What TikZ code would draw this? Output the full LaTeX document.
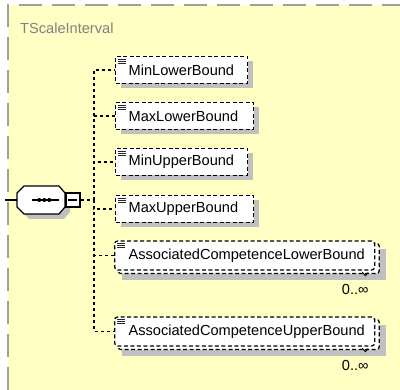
\documentclass[tikz,border=0pt]{standalone}
\usepackage{fontspec}
\setmainfont{Liberation Sans}
\usetikzlibrary{shadows,calc,backgrounds}
\definecolor{bgyellow}{RGB}{255,255,196}
\definecolor{bordergray}{RGB}{160,160,160}
\definecolor{shadowgray}{RGB}{192,192,192}
\definecolor{titlegray}{RGB}{128,128,128}
\tikzset{
  boxfont/.style={font=\fontsize{14.6}{16}\selectfont},
  elem/.style={boxfont, draw=black, line width=1.25pt, dash pattern=on 4pt off 2.5pt,
    fill=white, anchor=west, minimum height=27pt, inner xsep=2pt, inner ysep=0pt,
    execute at begin node={\hspace*{11pt}},
    general shadow={fill=shadowgray, shadow xshift=5pt, shadow yshift=-5pt}},
  assoc/.style={boxfont, draw=black, line width=1.25pt, dash pattern=on 4pt off 2.5pt,
    fill=white, anchor=west, minimum height=29pt, inner xsep=2pt, inner ysep=0pt,
    rounded corners=3pt, execute at begin node={\hspace*{12pt}}},
  backbox/.style={draw=black, line width=1.25pt, dash pattern=on 4pt off 2.5pt,
    fill=white, rounded corners=3pt},
  conn/.style={draw=black, line width=1.25pt, dash pattern=on 3pt off 3pt},
  icon/.style={draw=black!85, line width=0.8pt},
  mult/.style={boxfont, inner sep=0pt},
  solidline/.style={draw=black, line width=1.2pt},
}
\begin{document}
\begin{tikzpicture}[x=1pt,y=-1pt]
\useasboundingbox (0,0) rectangle (400,390);
% title
\node[anchor=west, text=titlegray, boxfont, inner sep=0pt] (title) at (20,28) {TScaleInterval};
% sequence compositor
\node[minimum width=48pt, minimum height=28pt, inner sep=0pt] (seq) at (41,200) {};
\fill[shadowgray] ($(seq.center)+(-12,-9)$) -- ($(seq.center)+(23,-9)$) -- ($(seq.center)+(29,-2)$)
  -- ($(seq.center)+(29,12)$) -- ($(seq.center)+(23,19)$) -- ($(seq.center)+(-12,19)$)
  -- ($(seq.center)+(-19,12)$) -- ($(seq.center)+(-19,-2)$) -- cycle;
\filldraw[solidline, fill=white] ($(seq.center)+(-17,-14)$) -- ($(seq.center)+(18,-14)$) -- ($(seq.center)+(24,-7)$)
  -- ($(seq.center)+(24,7)$) -- ($(seq.center)+(18,14)$) -- ($(seq.center)+(-17,14)$)
  -- ($(seq.center)+(-24,7)$) -- ($(seq.center)+(-24,-7)$) -- cycle;
\draw[solidline] ($(seq.center)+(-9,0)$) -- ($(seq.center)+(18,0)$);
\foreach \dx in {-1.7,3.3,8.3}
  \fill ($(seq.center)+(\dx,0)$) circle[radius=2pt];
\node[draw=black, line width=1.2pt, fill=white, minimum width=14pt, minimum height=14pt,
  inner sep=0pt] (seqend) at (73,200) {};
\draw[solidline] ($(seqend.center)+(-5,0)$) -- ($(seqend.center)+(4,0)$);
\coordinate (in) at (5,200);
\draw[solidline] (in) -- (seq.west);
% elements
\node[elem, text width=128pt] (b1) at (115,70) {MinLowerBound};
\node[elem, text width=134pt] (b2) at (115,116) {MaxLowerBound};
\node[elem, text width=128pt] (b3) at (115,162) {MinUpperBound};
\node[elem, text width=134pt] (b4) at (115,209) {MaxUpperBound};
\node[assoc, text width=256pt] (a1) at (114,255.5) {AssociatedCompetenceLowerBound};
\node[assoc, text width=256pt] (a2) at (114,331.5) {AssociatedCompetenceUpperBound};
% icons
\foreach \n in {b1,b2,b3,b4,a1,a2}{
  \foreach \dy in {3.5,5.5,7.5}
    \draw[icon] ($(\n.north west)+(3,\dy)$) -- ($(\n.north west)+(11,\dy)$);
}
% multiplicity
\foreach \n in {a1,a2}{
  \draw[line width=0.9pt] ($(\n.south east)+(-13,1.5)$) -- ($(\n.south east)+(-10,5)$) -- ($(\n.south east)+(-7,2)$);
  \node[mult] (m\n) at ($(\n.south east)+(-20,19)$) {0..∞};
}
% connectors
\coordinate (trunk) at (94,200);
\draw[conn] (seqend.east) -- (trunk);
\foreach \n in {b1,b2,b3,b4,a1,a2}
  \draw[conn] (trunk) |- (\n.west);
% background layer
\begin{pgfonlayer}{background}
\fill[bgyellow] (8,5) rectangle (400,390);
\draw[bordergray, line width=1.3pt, dash pattern=on 23pt off 10pt] (8,390) -- (8,5) -- (400,5);
\foreach \n in {a1,a2}{
  \fill[shadowgray] ($(\n.north west)+(8,9)$) rectangle ($(\n.south east)+(11,9)$);
  \path[backbox] ($(\n.north west)+(4,3)$) rectangle ($(\n.south east)+(4,3)$);
}
\end{pgfonlayer}
\end{tikzpicture}
\end{document}
